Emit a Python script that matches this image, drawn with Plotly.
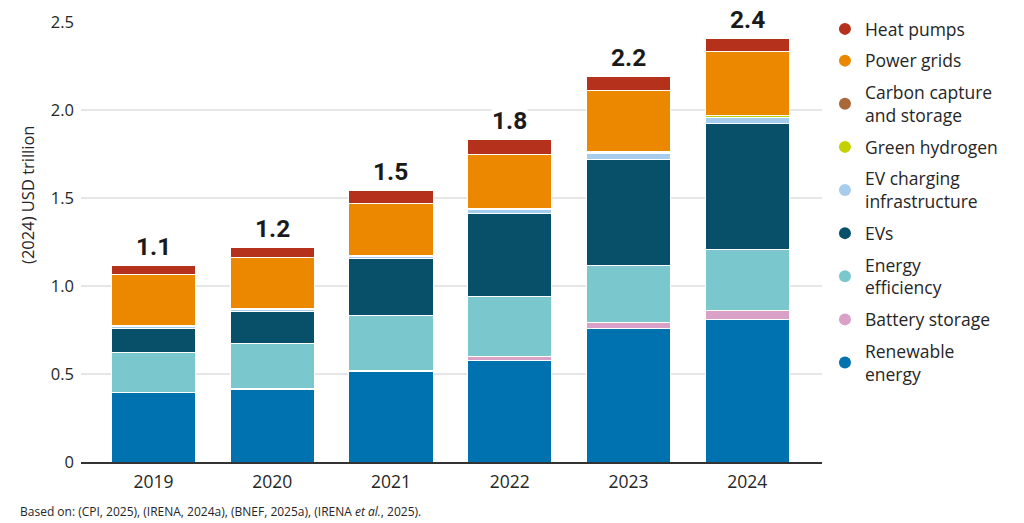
import plotly.graph_objects as go

# years on the x axis
years = ["2019", "2020", "2021", "2022", "2023", "2024"]

# investment by segment, (2024) USD trillion, bottom of stack first
renewable_energy = [0.394, 0.413, 0.517, 0.576, 0.756, 0.811]
battery_storage = [0.002, 0.003, 0.005, 0.022, 0.038, 0.050]
energy_efficiency = [0.227, 0.256, 0.310, 0.345, 0.322, 0.346]
evs = [0.135, 0.182, 0.323, 0.470, 0.605, 0.716]
ev_charging = [0.011, 0.012, 0.013, 0.020, 0.030, 0.037]
green_hydrogen = [0.001, 0.001, 0.002, 0.003, 0.005, 0.006]
carbon_capture = [0.003, 0.003, 0.003, 0.004, 0.006, 0.005]
power_grids = [0.290, 0.290, 0.298, 0.305, 0.350, 0.362]
heat_pumps = [0.056, 0.059, 0.072, 0.088, 0.079, 0.074]

segments = [
    ("Renewable<br>energy", renewable_energy, "#0072B0"),
    ("Battery storage", battery_storage, "#D9A0C8"),
    ("Energy<br>efficiency", energy_efficiency, "#7AC7CE"),
    ("EVs", evs, "#08506A"),
    ("EV charging<br>infrastructure", ev_charging, "#A7CDEE"),
    ("Green hydrogen", green_hydrogen, "#C3D100"),
    ("Carbon capture<br>and storage", carbon_capture, "#A86838"),
    ("Power grids", power_grids, "#EC8800"),
    ("Heat pumps", heat_pumps, "#B5311B"),
]

totals = [sum(s[1][i] for s in segments) for i in range(len(years))]
total_labels = [f"{t:.1f}" for t in totals]

FONT = "Open Sans"
TXT = "#262626"

fig = go.Figure()

for name, vals, col in segments:
    fig.add_trace(go.Bar(
        x=years, y=vals, name=name, marker_color=col,
        marker_line_color="white", marker_line_width=1,
        width=0.71, showlegend=False, hoverinfo="y+name",
    ))

# legend entries with round markers, top of stack first
for name, vals, col in reversed(segments):
    fig.add_trace(go.Scatter(
        x=[None], y=[None], mode="markers", name=name, legendgroup=name,
        marker=dict(symbol="circle", size=17, color=col),
    ))

# totals above each bar (x given as category index)
notes = []
for i, (tot, lab) in enumerate(zip(totals, total_labels)):
    notes.append(dict(
        x=i, y=tot, xref="x", yref="y", text=lab, showarrow=False,
        yanchor="bottom", yshift=3, bgcolor="white", borderpad=0,
        font=dict(family="Roboto", size=24.5, color="#1a1a1a", weight="bold"),
    ))
notes.append(dict(
    text="(2024) USD trillion", textangle=-90,
    xref="paper", yref="paper", x=-0.0715, y=0.607, xanchor="center", yanchor="middle",
    showarrow=False, font=dict(family=FONT, size=16.5, color=TXT),
))
notes.append(dict(
    text="Based on: (CPI, 2025), (IRENA, 2024a), (BNEF, 2025a), (IRENA <i>et al.</i>, 2025).",
    xref="paper", yref="paper", x=-0.085, y=-0.113, xanchor="left", yanchor="middle",
    showarrow=False, font=dict(family=FONT, size=12, color=TXT),
))

fig.update_layout(
    width=1024, height=523,
    margin=dict(l=81, r=202, t=22, b=61, autoexpand=False),
    plot_bgcolor="white", paper_bgcolor="white",
    barmode="stack",
    font=dict(family=FONT, size=16, color=TXT),
    legend=dict(
        x=1.004, y=1.025, xanchor="left", yanchor="top",
        font=dict(family=FONT, size=17.5, color=TXT),
        tracegroupgap=6, traceorder="grouped", itemsizing="constant",
        maxheight=500, bgcolor="rgba(0,0,0,0)",
    ),
    xaxis=dict(
        type="category", range=[-0.61, 5.63], showgrid=False,
        showline=True, linecolor="#333333", linewidth=2, automargin=False,
        ticks="", tickfont=dict(size=17.5, color=TXT), ticklabelstandoff=3,
    ),
    yaxis=dict(
        range=[0, 2.5], tickvals=[0, 0.5, 1.0, 1.5, 2.0, 2.5],
        ticktext=["0", "0.5", "1.0", "1.5", "2.0", "2.5"],
        showgrid=True, gridcolor="#e6e6e6", gridwidth=1.5, automargin=False,
        zeroline=False, ticks="", ticklabelstandoff=6,
        tickfont=dict(size=16.5, color=TXT),
    ),
    annotations=notes,
)

# drop the default page margin so the figure fills the window
fig.write_html(
    "out.html",
    config={"displayModeBar": False},
    post_script="document.body.style.margin = '0';",
)
